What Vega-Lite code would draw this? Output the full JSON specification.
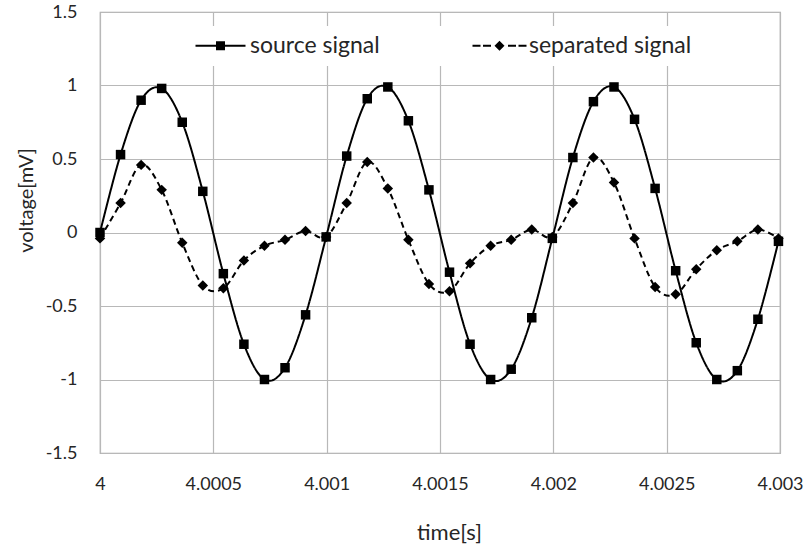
{
  "$schema": "https://vega.github.io/schema/vega-lite/v6.json",
  "width": 680,
  "height": 441,
  "autosize": {"type": "none"},
  "padding": {"left": 100, "top": 12, "right": 27, "bottom": 91},
  "background": "white",
  "config": {
    "view": {"stroke": "#a6a6a6", "strokeWidth": 1.2},
    "font": "Lato",
    "axis": {"labelFont": "Lato", "titleFont": "Lato", "labelColor": "#262626", "titleColor": "#262626", "titleFontWeight": "normal"}
  },
  "data": {
    "values": [
      {"t": 4.0000000, "v": 0.00, "series": "source signal"},
      {"t": 4.0000907, "v": 0.53, "series": "source signal"},
      {"t": 4.0001814, "v": 0.90, "series": "source signal"},
      {"t": 4.0002721, "v": 0.98, "series": "source signal"},
      {"t": 4.0003628, "v": 0.75, "series": "source signal"},
      {"t": 4.0004535, "v": 0.28, "series": "source signal"},
      {"t": 4.0005442, "v": -0.28, "series": "source signal"},
      {"t": 4.0006349, "v": -0.76, "series": "source signal"},
      {"t": 4.0007256, "v": -1.00, "series": "source signal"},
      {"t": 4.0008163, "v": -0.92, "series": "source signal"},
      {"t": 4.0009070, "v": -0.56, "series": "source signal"},
      {"t": 4.0009977, "v": -0.03, "series": "source signal"},
      {"t": 4.0010884, "v": 0.52, "series": "source signal"},
      {"t": 4.0011791, "v": 0.91, "series": "source signal"},
      {"t": 4.0012698, "v": 0.99, "series": "source signal"},
      {"t": 4.0013605, "v": 0.76, "series": "source signal"},
      {"t": 4.0014512, "v": 0.29, "series": "source signal"},
      {"t": 4.0015420, "v": -0.27, "series": "source signal"},
      {"t": 4.0016327, "v": -0.76, "series": "source signal"},
      {"t": 4.0017234, "v": -1.00, "series": "source signal"},
      {"t": 4.0018141, "v": -0.93, "series": "source signal"},
      {"t": 4.0019048, "v": -0.58, "series": "source signal"},
      {"t": 4.0019955, "v": -0.04, "series": "source signal"},
      {"t": 4.0020862, "v": 0.51, "series": "source signal"},
      {"t": 4.0021769, "v": 0.89, "series": "source signal"},
      {"t": 4.0022676, "v": 0.99, "series": "source signal"},
      {"t": 4.0023583, "v": 0.77, "series": "source signal"},
      {"t": 4.0024490, "v": 0.30, "series": "source signal"},
      {"t": 4.0025397, "v": -0.26, "series": "source signal"},
      {"t": 4.0026304, "v": -0.75, "series": "source signal"},
      {"t": 4.0027211, "v": -1.00, "series": "source signal"},
      {"t": 4.0028118, "v": -0.94, "series": "source signal"},
      {"t": 4.0029025, "v": -0.59, "series": "source signal"},
      {"t": 4.0029932, "v": -0.06, "series": "source signal"},
      {"t": 4.0000000, "v": -0.04, "series": "separated signal"},
      {"t": 4.0000907, "v": 0.20, "series": "separated signal"},
      {"t": 4.0001814, "v": 0.46, "series": "separated signal"},
      {"t": 4.0002721, "v": 0.29, "series": "separated signal"},
      {"t": 4.0003628, "v": -0.07, "series": "separated signal"},
      {"t": 4.0004535, "v": -0.36, "series": "separated signal"},
      {"t": 4.0005442, "v": -0.38, "series": "separated signal"},
      {"t": 4.0006349, "v": -0.19, "series": "separated signal"},
      {"t": 4.0007256, "v": -0.09, "series": "separated signal"},
      {"t": 4.0008163, "v": -0.05, "series": "separated signal"},
      {"t": 4.0009070, "v": 0.01, "series": "separated signal"},
      {"t": 4.0009977, "v": -0.03, "series": "separated signal"},
      {"t": 4.0010884, "v": 0.20, "series": "separated signal"},
      {"t": 4.0011791, "v": 0.48, "series": "separated signal"},
      {"t": 4.0012698, "v": 0.30, "series": "separated signal"},
      {"t": 4.0013605, "v": -0.05, "series": "separated signal"},
      {"t": 4.0014512, "v": -0.35, "series": "separated signal"},
      {"t": 4.0015420, "v": -0.40, "series": "separated signal"},
      {"t": 4.0016327, "v": -0.21, "series": "separated signal"},
      {"t": 4.0017234, "v": -0.09, "series": "separated signal"},
      {"t": 4.0018141, "v": -0.05, "series": "separated signal"},
      {"t": 4.0019048, "v": 0.02, "series": "separated signal"},
      {"t": 4.0019955, "v": -0.03, "series": "separated signal"},
      {"t": 4.0020862, "v": 0.20, "series": "separated signal"},
      {"t": 4.0021769, "v": 0.51, "series": "separated signal"},
      {"t": 4.0022676, "v": 0.34, "series": "separated signal"},
      {"t": 4.0023583, "v": -0.04, "series": "separated signal"},
      {"t": 4.0024490, "v": -0.37, "series": "separated signal"},
      {"t": 4.0025397, "v": -0.42, "series": "separated signal"},
      {"t": 4.0026304, "v": -0.25, "series": "separated signal"},
      {"t": 4.0027211, "v": -0.12, "series": "separated signal"},
      {"t": 4.0028118, "v": -0.06, "series": "separated signal"},
      {"t": 4.0029025, "v": 0.02, "series": "separated signal"},
      {"t": 4.0029932, "v": -0.04, "series": "separated signal"}
    ]
  },
  "encoding": {
    "x": {
      "field": "t", "type": "quantitative",
      "scale": {"domain": [4, 4.003], "nice": false, "zero": false},
      "axis": {
        "values": [4, 4.0005, 4.001, 4.0015, 4.002, 4.0025, 4.003],
        "format": "~g", "title": "time[s]", "grid": true, "gridColor": "#b8b8b8", "gridWidth": 1.2,
        "ticks": false, "domain": false, "labelPadding": 22, "labelFontSize": 18, "titleFontSize": 22,
        "labelFlush": false, "labelOverlap": false, "titleX": 349, "titleY": 69, "titleBaseline": "top"
      }
    },
    "y": {
      "field": "v", "type": "quantitative",
      "scale": {"domain": [-1.5, 1.5], "nice": false},
      "axis": {
        "values": [-1.5, -1, -0.5, 0, 0.5, 1, 1.5],
        "labelExpr": "replace(format(datum.value, '~g'), '\u2212', '-')",
        "title": "voltage[mV]", "grid": true, "gridColor": "#b8b8b8", "gridWidth": 1.2,
        "ticks": false, "domain": false, "labelPadding": 23, "labelFontSize": 18, "titleFontSize": 20,
        "labelFlush": false, "labelOverlap": false, "titleX": -64, "titleY": 188
      }
    }
  },
  "layer": [
    {
      "mark": {"type": "point", "filled": true, "color": "black", "size": 0, "strokeWidth": 0},
      "encoding": {
        "shape": {
          "field": "series", "type": "nominal",
          "scale": {
            "domain": ["source signal", "separated signal"],
            "range": [
              "M-5,-0.2H5V0.2H-5ZM-0.9,-0.9H0.9V0.9H-0.9Z",
              "M-5.4,-0.2H-3.8V0.2H-5.4ZM-3.3,-0.2H-1.7V0.2H-3.3ZM1.7,-0.2H3.3V0.2H1.7ZM3.8,-0.2H5.4V0.2H3.8ZM0,-1L1,0L0,1L-1,0Z"
            ]
          },
          "legend": {
            "title": null, "orient": "none", "legendX": 101, "legendY": 14, "direction": "horizontal",
            "labelFontSize": 23, "labelFont": "Lato", "labelColor": "#262626", "labelLimit": 400,
            "symbolSize": 100, "labelOffset": 18, "columnPadding": 92, "padding": 8,
            "fillColor": "white", "symbolOpacity": 1,
            "symbolFillColor": "black", "symbolStrokeColor": "black", "symbolStrokeWidth": 0
          }
        }
      }
    },
    {
      "mark": {"type": "line", "interpolate": "cardinal", "strokeWidth": 2, "color": "black"},
      "encoding": {
        "strokeDash": {
          "field": "series", "type": "nominal",
          "scale": {"domain": ["source signal", "separated signal"], "range": [[1, 0], [6, 4]]},
          "legend": null
        },
        "detail": {"field": "series", "type": "nominal"}
      }
    },
    {
      "transform": [{"filter": "datum.series === 'source signal'"}],
      "mark": {"type": "point", "filled": true, "opacity": 1, "color": "black", "shape": "square", "size": 90}
    },
    {
      "transform": [{"filter": "datum.series === 'separated signal'"}],
      "mark": {"type": "point", "filled": true, "opacity": 1, "color": "black", "shape": "diamond", "size": 110}
    }
  ]
}
